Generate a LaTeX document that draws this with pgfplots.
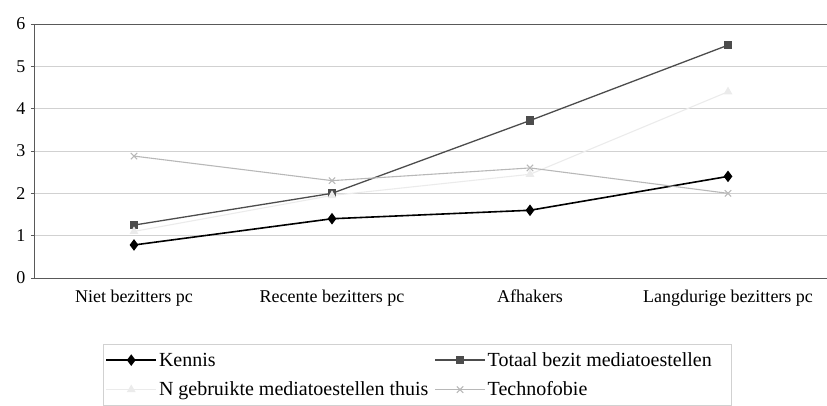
\documentclass[border=0pt]{standalone}
\usepackage{pgfplots}
\pgfplotsset{compat=1.18}
\usepackage{fontspec}
\setmainfont{Liberation Serif}
\definecolor{kennis}{gray}{0.0}
\definecolor{totaal}{gray}{0.30}
\definecolor{ngebr}{gray}{0.92}
\definecolor{techno}{gray}{0.72}
\definecolor{gridc}{gray}{0.82}
\definecolor{axc}{gray}{0.35}

\begin{document}
\begin{tikzpicture}
\useasboundingbox (-35pt,-127pt) rectangle (792pt,278pt);
\begin{axis}[
  scale only axis,
  width=792pt, height=254pt,
  xmin=-0.5, xmax=3.5, ymin=0, ymax=6,
  axis x line*=bottom, axis y line*=left,
  axis line style={axc, line width=1pt},
  xtick={0,1,2,3},
  xticklabels={Niet bezitters pc, Recente bezitters pc, Afhakers, Langdurige bezitters pc},
  major x tick style={draw=none},
  extra x ticks={-0.5,0.5,1.5,2.5},
  extra x tick labels={},
  extra x tick style={tick style={axc, line width=0.6pt}, major tick length=4pt, tick align=outside, grid=none},
  ytick={0,1,...,6},
  ymajorgrids,
  major grid style={gridc, line width=0.8pt},
  y tick style={axc, line width=0.6pt}, tick align=outside, major tick length=4pt,
  tick label style={font=\fontsize{18}{20}\selectfont},
  /pgf/number format/assume math mode=true,
  xticklabel style={yshift=-4pt},
  yticklabel style={xshift=-2pt},
  legend columns=2,
  legend cell align=left,
  legend style={at={(rel axis cs:0.0859,-0.26)}, anchor=north west,
    draw=gridc, line width=0.8pt, font=\fontsize{20}{22}\selectfont,
    /tikz/every even column/.append style={column sep=4pt},
    inner xsep=2pt, inner ysep=6pt, row sep=10pt},
  legend image code/.code={\draw[mark repeat=2, mark phase=2, #1] plot coordinates {(0pt,0pt) (25pt,0pt) (50pt,0pt)};},
]
\addplot[kennis, line width=1.6pt, mark=diamond*, mark size=4.5pt, mark options={solid}]
  coordinates {(0,0.78) (1,1.4) (2,1.6) (3,2.4)};
\addlegendentry{Kennis}
\addplot[totaal, line width=1.3pt, mark=square*, mark size=3.5pt]
  coordinates {(0,1.25) (1,2.0) (2,3.72) (3,5.5)};
\addlegendentry{\makebox[240pt][l]{Totaal bezit mediatoestellen}}
\addplot[ngebr, line width=1.1pt, mark=triangle*, mark size=4pt]
  coordinates {(0,1.1) (1,1.95) (2,2.45) (3,4.4)};
\addlegendentry{N gebruikte mediatoestellen thuis}
\addplot[techno, line width=1.1pt, mark=x, mark size=4.5pt]
  coordinates {(0,2.88) (1,2.3) (2,2.6) (3,2.0)};
\addlegendentry{Technofobie}
\draw[axc, line width=1pt] (axis cs:-0.5,6) -- (axis cs:3.5,6);
\end{axis}
\end{tikzpicture}
\end{document}
